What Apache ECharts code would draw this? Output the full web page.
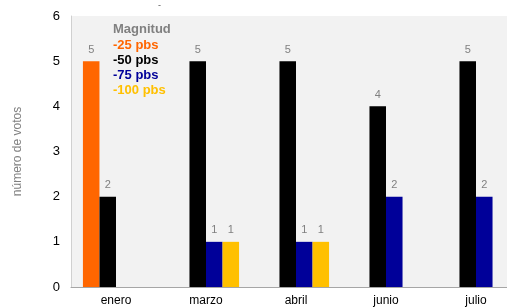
<!DOCTYPE html>
<html><head><meta charset="utf-8">
<script src="https://cdn.jsdelivr.net/npm/echarts@6/dist/echarts.min.js"></script>
<style>html,body{margin:0;padding:0;background:#fff}#c{width:507px;height:308px}</style>
</head><body><div id="c"></div>
<script>
const categories = ['enero', 'marzo', 'abril', 'junio', 'julio'];
const seriesNames = ['-25 pbs', '-50 pbs', '-75 pbs', '-100 pbs'];
const s25 = [5, 0, 0, 0, 0];
const s50 = [2, 5, 5, 4, 5];
const s75 = [0, 1, 1, 2, 2];
const s100 = [0, 1, 1, 0, 0];
const yTicks = [0, 1, 2, 3, 4, 5, 6];
const colors = ['#ff6600', '#000000', '#000099', '#ffc000'];
const values = [s25, s50, s75, s100];
const font = 'Liberation Sans, Arial, sans-serif';

const chart = echarts.init(document.getElementById('c'));
chart.setOption({
  animation: false,
  textStyle: { fontFamily: font },
  title: [
    { text: 'Magnitud', left: 108, top: 18, textStyle: { color: '#808080', fontSize: 13, fontWeight: 'bold', fontFamily: font } },
    { text: '-', left: 153, top: -4, textStyle: { color: '#555', fontSize: 9, fontWeight: 'normal', fontFamily: font } }
  ],
  legend: {
    orient: 'vertical', left: 103, top: 34, icon: 'rect', itemWidth: 0, itemHeight: 0, itemGap: 2,
    selectedMode: false,
    textStyle: { fontSize: 13, fontWeight: 'bold', fontFamily: font },
    data: seriesNames.map((n, i) => ({ name: n, textStyle: { color: colors[i] } }))
  },
  grid: { left: 71, top: 16, width: 450, bottom: 21, outerBoundsMode: 'none', containLabel: false, show: true, backgroundColor: '#f2f2f2', borderWidth: 0 },
  xAxis: {
    type: 'category', data: categories,
    axisLine: { lineStyle: { color: '#a6a6a6' } },
    axisTick: { show: false },
    axisLabel: { color: '#000', fontSize: 12, margin: 8, fontFamily: font }
  },
  yAxis: {
    type: 'value', min: yTicks[0], max: yTicks[yTicks.length - 1], interval: 1,
    name: 'número de votos', nameLocation: 'middle', nameGap: 47, nameRotate: 90,
    nameTextStyle: { color: '#808080', fontSize: 12, fontFamily: font },
    axisLine: { show: true, lineStyle: { color: '#d0d0d0' } },
    axisTick: { show: false },
    splitLine: { show: false },
    axisLabel: { color: '#000', fontSize: 13, margin: 11, fontFamily: font }
  },
  series: seriesNames.map((n, i) => ({
    name: n, type: 'bar', data: values[i],
    barGap: '0%', barCategoryGap: '26.5%',
    itemStyle: { color: colors[i] },
    label: {
      show: true, position: 'top', distance: 6, color: '#808080', fontSize: 11, fontFamily: font,
      formatter: p => (p.value ? String(p.value) : '')
    }
  }))
});
</script></body></html>
